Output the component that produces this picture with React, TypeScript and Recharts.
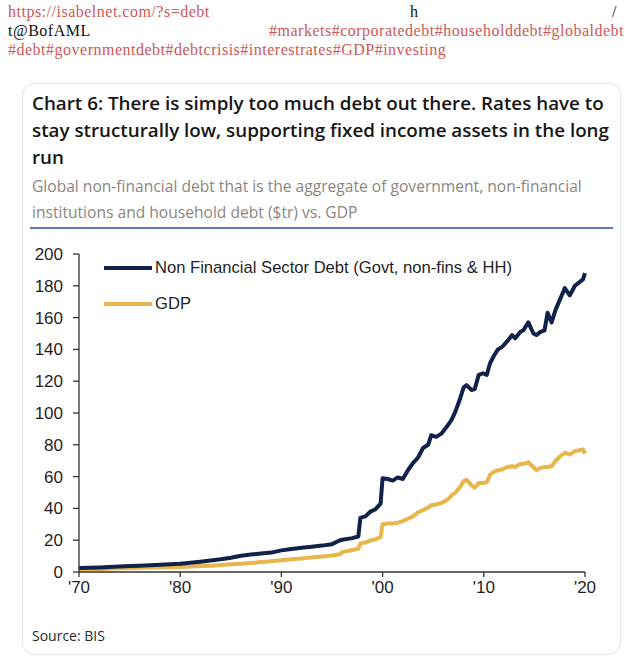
import React from "react"
import { LineChart, Line, XAxis, YAxis, Legend } from "recharts"

// decimal years, irregular spacing where the series jump
const years = [
  1970, 1971, 1972, 1973, 1974, 1975, 1976, 1977, 1978, 1979,
  1980, 1981, 1982, 1983, 1984, 1985, 1986, 1987, 1988, 1989,
  1990, 1991, 1992, 1993, 1994, 1995, 1995.75, 1996, 1997, 1997.6,
  1997.8, 1998.3, 1998.8, 1999.3, 1999.8, 2000, 2000.5, 2001, 2001.5, 2002,
  2002.5, 2003, 2003.5, 2004, 2004.5, 2004.8, 2005.3, 2005.8, 2006.3, 2006.8,
  2007.2, 2007.6, 2008, 2008.3, 2008.8, 2009.1, 2009.5, 2009.9, 2010.3, 2010.6,
  2011, 2011.4, 2011.8, 2012.3, 2012.8, 2013.1, 2013.6, 2013.9, 2014.4, 2014.9,
  2015.2, 2015.6, 2016, 2016.3, 2016.7, 2017.1, 2017.5, 2018, 2018.5, 2019,
  2019.4, 2019.8, 2020,
]

const debtValues = [
  2.5, 2.7, 2.9, 3.2, 3.4, 3.7, 4.0, 4.3, 4.5, 4.8,
  5.2, 5.8, 6.5, 7.2, 8.0, 9.0, 10.2, 11.0, 11.6, 12.2,
  13.6, 14.5, 15.2, 15.9, 16.6, 17.5, 19.8, 20.3, 21.3, 22.3,
  34.0, 35.0, 38.0, 39.5, 43.0, 59.0, 58.5, 57.5, 59.5, 58.5,
  64.0, 68.5, 72.0, 78.0, 80.0, 86.0, 85.0, 87.0, 91.0, 95.5,
  101, 108, 116, 117.5, 114.5, 115, 124, 125, 124, 131,
  136, 140, 141.5, 145, 149, 147, 151, 152, 157, 150,
  149, 151, 152, 163, 157, 165, 171, 178.5, 174, 180,
  182, 184, 188,
]

const gdpValues = [
  1.5, 1.7, 1.9, 2.1, 2.3, 2.4, 2.6, 2.8, 2.9, 3.0,
  3.1, 3.4, 3.7, 4.0, 4.4, 4.8, 5.2, 5.7, 6.3, 6.8,
  7.4, 8.0, 8.5, 9.2, 9.8, 10.4, 11.2, 12.5, 13.8, 14.6,
  18.0, 18.5, 19.8, 20.5, 22.0, 30.0, 30.5, 30.5, 31.0, 32.0,
  33.5, 35.0, 37.5, 39.0, 40.5, 42.0, 42.5, 43.5, 45.0, 48.0,
  50, 53, 57, 58, 54.5, 53, 56, 56, 56.5, 61,
  63, 64, 64.5, 66, 66.5, 66, 68, 68, 69, 66,
  64, 65.5, 66, 66, 66.5, 70, 72.5, 75, 74, 76,
  76.5, 77, 74.5,
]

const yTicks = [0, 20, 40, 60, 80, 100, 120, 140, 160, 180, 200]
const xTicks = [1970, 1980, 1990, 2000, 2010, 2020]

const seriesNames = ["Non Financial Sector Debt (Govt, non-fins & HH)", "GDP"]
const NAVY = "#10214a"
const GOLD = "#e8b64a"
const RED = "#cf5856"

const data = years.map((year, i) => ({ year, debt: debtValues[i], gdp: gdpValues[i] }))

const axisFont = { fontFamily: "'Liberation Sans', Arial, sans-serif", fontSize: 17, fill: "#1f1f1f" }

function ChartLegend() {
  const items = [
    { name: seriesNames[0], color: NAVY },
    { name: seriesNames[1], color: GOLD },
  ]
  return (
    <div>
      {items.map((item) => (
        <div key={item.name} style={{ display: "flex", alignItems: "center", height: 36 }}>
          <svg width={48} height={8} style={{ marginRight: 3 }}>
            <line x1={1} y1={4} x2={47} y2={4} stroke={item.color} strokeWidth={4} strokeLinecap="round" />
          </svg>
          <span style={{ fontFamily: "'Liberation Sans', Arial, sans-serif", fontSize: 16.6, color: "#1f1f1f", whiteSpace: "nowrap" }}>
            {item.name}
          </span>
        </div>
      ))}
    </div>
  )
}

export default function App() {
  const header = { position: "absolute" as const, fontFamily: "'Liberation Serif', serif", fontSize: 16, letterSpacing: 0.5, lineHeight: "18px", whiteSpace: "nowrap" as const }
  const title = { fontFamily: "'Open Sans', sans-serif", fontWeight: 600, fontSize: 18.8, color: "#161616", lineHeight: "27px", whiteSpace: "nowrap" as const }
  const sub = { fontFamily: "'Open Sans', sans-serif", fontWeight: 400, fontSize: 15.6, color: "#8c8680", lineHeight: "26px", whiteSpace: "nowrap" as const }

  return (
    <div style={{ position: "absolute", left: 0, top: 0, width: 625, height: 662, background: "#fff" }}>
      <div style={{ ...header, left: 8, top: 3, color: RED }}>https://isabelnet.com/?s=debt</div>
      <div style={{ ...header, left: 410, top: 3, color: "#111" }}>h</div>
      <div style={{ ...header, left: 612, top: 3, color: "#111" }}>/</div>
      <div style={{ ...header, left: 8, top: 21.6, color: "#111" }}>t@BofAML</div>
      <div style={{ ...header, right: 1, top: 21.6, color: RED }}>#markets#corporatedebt#householddebt#globaldebt</div>
      <div style={{ ...header, left: 8, top: 40.5, color: RED }}>#debt#governmentdebt#debtcrisis#interestrates#GDP#investing</div>

      <div
        style={{
          position: "absolute", left: 22, top: 83, width: 597, height: 570,
          border: "1px solid #dfe4ea", borderRadius: 12,
        }}
      />

      <div style={{ position: "absolute", left: 32, top: 90 }}>
        <div style={title}>Chart 6: There is simply too much debt out there. Rates have to</div>
        <div style={title}>stay structurally low, supporting fixed income assets in the long</div>
        <div style={title}>run</div>
      </div>
      <div style={{ position: "absolute", left: 32, top: 173 }}>
        <div style={sub}>Global non-financial debt that is the aggregate of government, non-financial</div>
        <div style={sub}>institutions and household debt ($tr) vs. GDP</div>
      </div>
      <div style={{ position: "absolute", left: 30, top: 227, width: 583, height: 1.5, background: "#5b7cb5" }} />

      <div style={{ position: "absolute", left: 0, top: 234 }}>
        <LineChart width={625} height={378} data={data} margin={{ top: 20, right: 40, left: 0, bottom: 0 }}>
          <XAxis
            dataKey="year"
            type="number"
            domain={[1970, 2020]}
            ticks={xTicks}
            tickFormatter={(v: number) => "'" + String(v).slice(2)}
            height={40}
            tickSize={5}
            tickMargin={4}
            tick={axisFont}
            stroke="#333"
            strokeWidth={1.3}
          />
          <YAxis
            type="number"
            domain={[0, 200]}
            ticks={yTicks}
            width={79}
            tickSize={6}
            tickMargin={10}
            tick={axisFont}
            stroke="#333"
            strokeWidth={1.3}
          />
          <Legend
            content={<ChartLegend />}
            layout="vertical"
            verticalAlign="middle"
            align="center"
            wrapperStyle={{ top: 16, left: 104, width: "auto" }}
          />
          <Line type="linear" dataKey="gdp" stroke={GOLD} strokeWidth={4} dot={false} isAnimationActive={false} strokeLinejoin="round" />
          <Line type="linear" dataKey="debt" stroke={NAVY} strokeWidth={4} dot={false} isAnimationActive={false} strokeLinejoin="round" />
        </LineChart>
      </div>

      <div style={{ position: "absolute", left: 32, top: 626, fontFamily: "'Open Sans', sans-serif", fontSize: 14, color: "#2a2a2a", lineHeight: "20px" }}>
        Source: BIS
      </div>
    </div>
  )
}
